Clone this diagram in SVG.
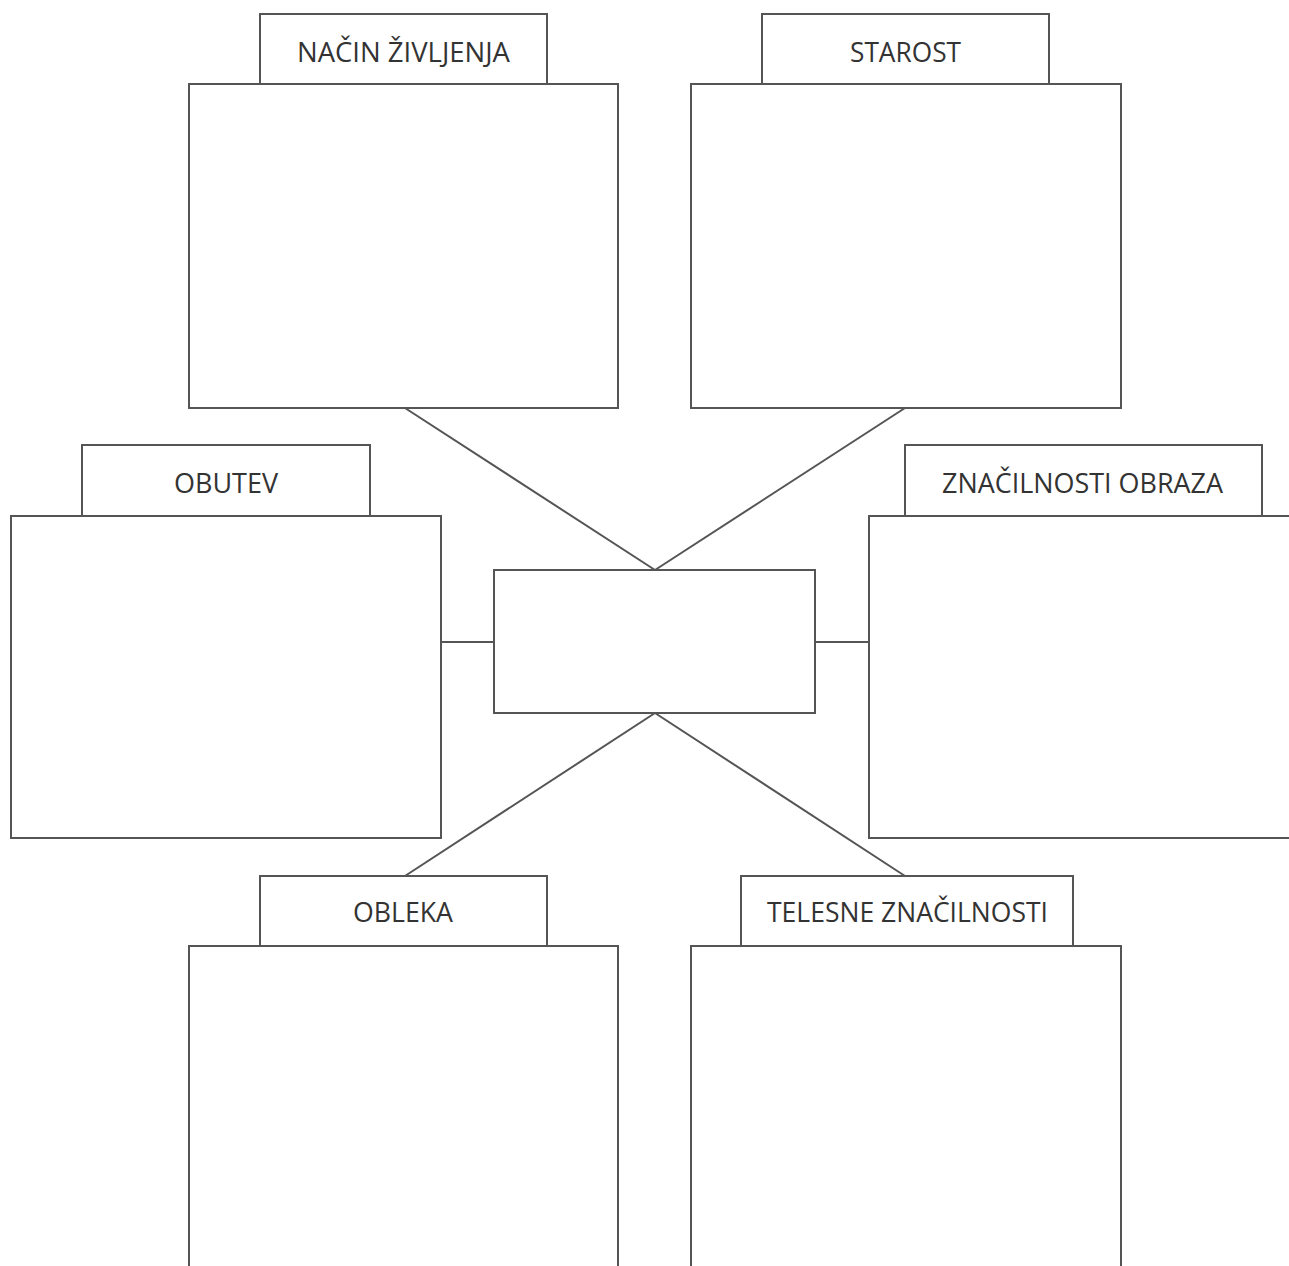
<svg xmlns="http://www.w3.org/2000/svg" width="1289" height="1266" viewBox="0 0 1289 1266">
<style>
.b{fill:#fff;stroke:#555;stroke-width:2}
.c{stroke:#555;stroke-width:2;fill:none}
.t{font-family:"Open Sans","Noto Sans",sans-serif;font-size:27px;fill:#333;text-anchor:start}
</style>
<rect width="1289" height="1266" fill="#fff"/>
<g id="connectors">
<line class="c" x1="405" y1="408" x2="655" y2="570"/>
<line class="c" x1="905" y1="408" x2="655" y2="570"/>
<line class="c" x1="655" y1="713" x2="405" y2="876"/>
<line class="c" x1="655" y1="713" x2="905" y2="876"/>
<line class="c" x1="441" y1="642" x2="494" y2="642"/>
<line class="c" x1="815" y1="642" x2="869" y2="642"/>
</g>
<g id="center"><rect class="b" x="494" y="570" width="321" height="143"/></g>
<g id="nacin">
<rect class="b" x="260" y="14" width="287" height="70"/>
<rect class="b" x="189" y="84" width="429" height="324"/>
<text class="t" x="297" y="62" textLength="213" lengthAdjust="spacingAndGlyphs">NAČIN ŽIVLJENJA</text>
</g>
<g id="starost">
<rect class="b" x="762" y="14" width="287" height="70"/>
<rect class="b" x="691" y="84" width="430" height="324"/>
<text class="t" x="850" y="62" textLength="111" lengthAdjust="spacingAndGlyphs">STAROST</text>
</g>
<g id="obutev">
<rect class="b" x="82" y="445" width="288" height="71"/>
<rect class="b" x="11" y="516" width="430" height="322"/>
<text class="t" x="174" y="493" textLength="104" lengthAdjust="spacingAndGlyphs">OBUTEV</text>
</g>
<g id="obraz">
<rect class="b" x="905" y="445" width="357" height="71"/>
<rect class="b" x="869" y="516" width="430" height="322"/>
<text class="t" x="942" y="493" textLength="281" lengthAdjust="spacingAndGlyphs">ZNAČILNOSTI OBRAZA</text>
</g>
<g id="obleka">
<rect class="b" x="260" y="876" width="287" height="70"/>
<rect class="b" x="189" y="946" width="429" height="330"/>
<text class="t" x="353" y="922" textLength="100" lengthAdjust="spacingAndGlyphs">OBLEKA</text>
</g>
<g id="telesne">
<rect class="b" x="741" y="876" width="332" height="70"/>
<rect class="b" x="691" y="946" width="430" height="330"/>
<text class="t" x="767" y="922" textLength="281" lengthAdjust="spacingAndGlyphs">TELESNE ZNAČILNOSTI</text>
</g>
</svg>
